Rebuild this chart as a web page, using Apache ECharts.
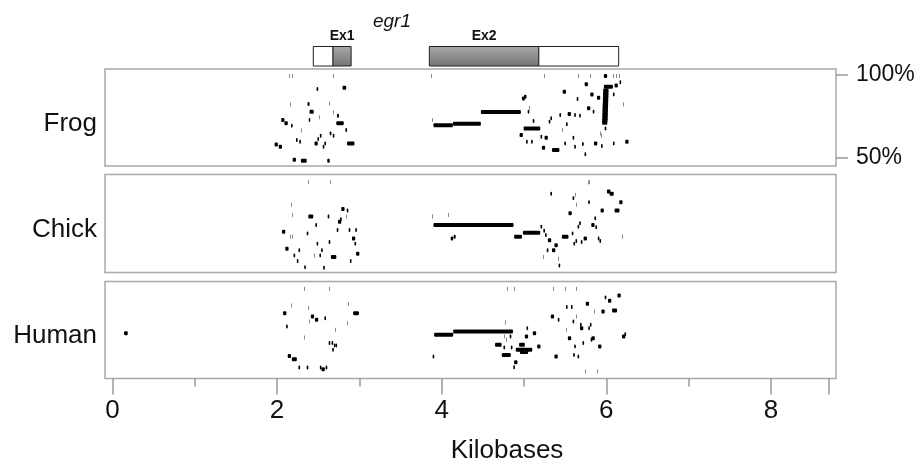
<!DOCTYPE html>
<html>
<head>
<meta charset="utf-8">
<script src="https://cdn.jsdelivr.net/npm/echarts@6/dist/echarts.min.js"></script>
<style>html,body{margin:0;padding:0;background:#fff;}#c{width:918px;height:467px;}</style>
</head>
<body>
<div id="c"></div>
<script>
// ---- data ----
const species = ['Frog', 'Chick', 'Human'];
const geneName = 'egr1';
const xTitle = 'Kilobases';
const xTickLabels = [0, 2, 4, 6, 8];
const xMajorTicks = [0, 2, 4, 6, 8, 8.7];
const xMinorTicks = [1, 3, 5, 7];
const identityTicks = [50, 100];
// gene model parts: [start kb, end kb, coding(1)/UTR(0)]
const geneParts = [[2.44, 2.68, 0], [2.68, 2.90, 1], [3.85, 5.18, 1], [5.18, 6.15, 0]];
// exon labels: [name, start kb, end kb]
const exonLabels = [['Ex1', 2.68, 2.90], ['Ex2', 3.85, 5.18]];
// conserved alignment hits: [start kb, end kb, % identity]
const frogHits = [
  [2.147,2.155,99.2],[2.176,2.184,99.2],[2.674,2.682,99.2],
  [2.48,2.50,91.3],[2.795,2.84,92.1],
  [2.156,2.164,82.1],[2.37,2.395,82.3],[2.633,2.641,82.7],
  [2.395,2.445,77.7],[2.674,2.682,77.3],[2.728,2.752,75.3],[2.508,2.516,74.3],
  [2.05,2.09,72.7],[2.09,2.13,70.7],[2.17,2.19,69.3],[2.72,2.81,70.7],[2.385,2.403,72.7],
  [2.83,2.85,66.6],[2.286,2.294,66.4],[2.64,2.66,64.6],[2.676,2.696,63.2],[2.52,2.54,63.2],
  [2.49,2.51,61.2],[2.23,2.25,60.6],[2.27,2.29,59.6],[2.455,2.495,58.6],[2.575,2.595,58.6],
  [2.555,2.575,56.6],[2.85,2.94,58.6],[1.97,2.01,58.0],[2.02,2.06,56.6],
  [2.19,2.23,48.8],[2.29,2.36,48.2],[2.61,2.64,48.2],
  [3.869,3.877,99.2],[3.886,3.894,72.7],
  [3.90,4.136,69.5],[4.136,4.476,70.5],[4.476,4.962,77.5],
  [4.975,5.01,85.7],[5.00,5.03,86.7],[5.066,5.074,80.1],[5.045,5.065,77.7],[5.106,5.126,72.1],
  [4.995,5.197,67.6],[4.946,4.986,63.6],[5.025,5.045,59.6],[5.086,5.106,59.6],
  [5.20,5.22,62.6],[5.25,5.29,62.0],[5.217,5.257,56.0],[5.34,5.43,54.6],
  [5.32,5.34,73.7],[5.30,5.32,71.7],[5.43,5.45,75.7],[5.47,5.51,89.7],
  [5.64,5.66,85.3],[5.737,5.777,94.2],[5.805,5.845,88.1],[5.886,5.926,86.1],
  [5.765,5.805,79.7],[5.835,5.855,77.7],[5.53,5.57,76.3],[5.61,5.63,75.7],[5.67,5.69,75.3],
  [5.51,5.53,70.1],[5.456,5.464,66.6],[5.59,5.61,62.0],[5.61,5.63,56.6],[5.49,5.51,58.6],
  [5.705,5.725,58.2],[5.735,5.755,52.0],[5.85,5.89,58.6],[5.936,5.956,57.0],[6.08,6.10,58.6],
  [6.23,6.27,59.6],[6.206,6.214,82.1],[6.08,6.10,88.1],[6.10,6.14,93.4],[6.16,6.18,95.4],
  [5.97,6.01,99.2],
  [5.246,5.254,99.2],[5.659,5.667,99.2],[5.801,5.809,99.2],[6.08,6.088,99.2],[6.12,6.128,99.2],[6.16,6.168,99.2],
  [5.97,6.08,92.7],
  [5.962,6.027,90.5],[5.961,6.026,89],[5.96,6.025,87.5],[5.959,6.024,86],[5.958,6.023,84.5],
  [5.957,6.022,83],[5.956,6.021,81.5],[5.955,6.02,80],[5.954,6.019,78.5],[5.953,6.018,77],
  [5.952,6.017,75.5],[5.951,6.016,74],[5.95,6.015,72.5],[5.949,6.012,71],
  [5.922,5.93,64.6],[5.931,5.939,63.2],[5.98,6.0,67.6]
];
const chickHits = [
  [2.378,2.386,98.8],[2.641,2.649,98.8],
  [2.164,2.172,85.3],[2.184,2.192,79.3],[2.38,2.44,78.3],[2.78,2.82,82.9],[2.846,2.866,81.9],
  [2.615,2.635,78.3],[2.74,2.78,75.3],[2.765,2.785,76.7],[2.836,2.844,78.3],[2.465,2.485,73.3],
  [2.06,2.10,69.3],[2.156,2.164,66.3],[2.176,2.184,66.3],[2.36,2.38,68.3],[2.725,2.745,70.3],
  [2.87,2.89,70.3],[2.95,2.97,70.3],[2.91,2.95,65.2],[2.94,2.96,62.2],[2.627,2.647,63.2],
  [2.48,2.50,62.2],[2.10,2.14,59.2],[2.26,2.28,58.2],[2.535,2.555,58.2],[2.20,2.22,55.2],
  [2.446,2.454,55.2],[2.514,2.534,55.2],[2.654,2.72,54.2],[2.96,3.00,56.2],[2.24,2.26,51.8],
  [2.885,2.905,51.8],[2.33,2.35,48.2],[2.56,2.58,47.8],
  [3.886,3.894,78.3],[4.071,4.079,79.3],[3.90,4.873,73.3],[4.11,4.14,65.2],[4.145,4.17,66.3],
  [4.88,4.975,66.3],[4.987,5.197,68.7],[5.20,5.22,72.3],[5.235,5.255,69.9],[5.256,5.276,67.3],
  [5.29,5.33,64.2],[5.37,5.41,61.2],[5.34,5.38,58.2],[5.276,5.296,58.2],[5.234,5.242,54.2],
  [5.416,5.424,53.2],[5.42,5.44,49.2],[5.46,5.54,66.3],[5.32,5.34,91.9],[5.59,5.61,89.3],
  [5.616,5.624,91.3],[5.636,5.644,85.3],[5.78,5.80,86.9],[5.54,5.58,80.3],[5.67,5.69,74.3],
  [5.65,5.67,72.3],[5.817,5.857,73.3],[5.867,5.887,71.9],[5.855,5.875,77.3],[5.58,5.60,68.3],
  [5.724,5.764,65.2],[5.625,5.645,63.8],[5.60,5.62,62.2],[5.69,5.71,63.2],[5.896,5.916,65.2],
  [5.916,5.936,63.8],[5.93,5.97,81.9],[6.007,6.05,93.3],[6.04,6.09,92.0],[6.157,6.197,86.9],
  [6.10,6.16,81.9],[5.776,5.784,98.8],[5.79,5.798,98.8],[6.196,6.204,66.3]
];
const humanHits = [
  [0.142,0.186,72.3],
  [2.329,2.337,99.0],[2.633,2.641,99.0],[2.166,2.174,89.0],[2.382,2.39,87.4],[2.864,2.872,89.8],
  [2.073,2.113,84.3],[2.41,2.45,82.3],[2.46,2.50,80.3],[2.394,2.402,79.3],[2.575,2.595,81.3],
  [2.925,2.995,84.3],[2.851,2.859,78.3],[2.11,2.13,76.3],[2.706,2.714,74.3],[2.326,2.334,69.7],
  [2.627,2.647,66.3],[2.662,2.682,66.3],[2.69,2.71,64.9],[2.71,2.73,64.9],[2.67,2.69,62.3],
  [2.13,2.17,58.6],[2.18,2.24,56.6],[2.26,2.28,51.6],[2.36,2.38,51.6],[2.52,2.54,51.6],
  [2.54,2.58,50.6],[2.59,2.61,51.6],
  [3.89,3.91,58.2],[3.908,4.14,71.3],[4.14,4.866,73.3],[4.796,4.804,99.0],[4.876,4.884,99.0],
  [4.766,4.774,78.7],[4.756,4.764,70.3],[4.776,4.784,68.3],[4.826,4.846,70.3],
  [5.03,5.05,75.3],[5.01,5.05,70.3],[5.107,5.147,72.3],[4.648,4.728,65.3],[4.75,4.77,63.7],
  [4.84,4.86,63.7],[4.94,5.01,65.3],[4.90,5.10,62.3],[4.95,5.05,61.0],[4.73,4.84,59.2],[5.16,5.20,64.3],
  [4.88,4.92,54.8],[4.87,4.89,51.8],
  [5.356,5.364,99.0],[5.496,5.504,99.0],[5.626,5.634,99.0],[5.51,5.53,88.0],[5.57,5.59,88.0],
  [5.75,5.79,90.0],[5.325,5.365,82.3],[5.41,5.43,80.3],[5.636,5.644,82.3],[5.59,5.61,79.3],
  [5.516,5.524,74.3],[5.68,5.70,77.3],[5.68,5.72,75.3],[5.80,5.82,77.3],[5.78,5.80,75.3],
  [5.533,5.573,69.3],[5.82,5.86,69.3],[5.81,5.83,68.3],[5.71,5.73,66.3],[5.61,5.63,64.3],
  [5.37,5.41,58.2],[5.597,5.617,59.2],[5.65,5.67,58.2],[5.90,5.94,64.3],[5.736,5.744,49.2],
  [5.886,5.894,49.2],[5.856,5.864,85.3],[5.94,5.98,85.3],[6.07,6.13,85.9],[5.98,6.00,93.8],
  [6.02,6.06,91.8],[6.135,6.175,95.0],[6.19,6.23,70.3],[6.22,6.24,71.7]
];

// ---- chart ----
const FONT = '"Liberation Sans", Arial, Helvetica, sans-serif';
const X_MIN = -0.09, X_MAX = 8.79;
const Y_MIN = 45, Y_MAX = 103.4;
const LEFT = 105, WIDTH = 731;
const panels = [{top: 69, height: 97}, {top: 174.5, height: 98}, {top: 281.5, height: 97}];

const chart = echarts.init(document.getElementById('c'), null, {renderer: 'canvas'});

function hitItem(params, api) {
  const a = api.coord([api.value(0), api.value(2)]);
  const b = api.coord([api.value(1), api.value(2)]);
  const w = b[0] - a[0];
  const thin = w < 1.2;
  return {
    type: 'rect',
    shape: {x: thin ? Math.round(a[0]) : a[0], y: a[1] - 2, width: thin ? 1 : w, height: 4, r: thin ? 0 : 1},
    style: {fill: thin ? '#8a8a8a' : '#000'}
  };
}
function geneItem(params, api) {
  const a = api.coord([api.value(0), 1]);
  const b = api.coord([api.value(1), 0]);
  return {
    type: 'rect',
    shape: {x: a[0], y: a[1], width: b[0] - a[0], height: b[1] - a[1]},
    style: {
      fill: api.value(2) ? new echarts.graphic.LinearGradient(0, 0, 0, 1, [{offset: 0, color: '#a8a8a8'}, {offset: 1, color: '#747474'}]) : '#fff',
      stroke: '#222', lineWidth: 1
    }
  };
}
function exonLabelItem(params, api) {
  const a = api.coord([api.value(1), 1]);
  const b = api.coord([api.value(2), 1]);
  return {
    type: 'text',
    style: {x: (a[0] + b[0]) / 2, y: a[1] - 3, text: exonLabels[params.dataIndex][0], fill: '#111',
      font: 'bold 14px ' + FONT, align: 'center', verticalAlign: 'bottom'}
  };
}

const grids = [{left: LEFT, width: WIDTH, top: 46.5, height: 19.5, show: false}].concat(
  panels.map(p => ({left: LEFT, width: WIDTH, top: p.top, height: p.height, show: true,
    borderColor: '#a9a9a9', borderWidth: 1.5, backgroundColor: '#fff'})));

const hidden = {axisLine: {show: false, onZero: false}, axisTick: {show: false}, axisLabel: {show: false}, splitLine: {show: false}};
const xAxes = [0, 1, 2].map(i => Object.assign({type: 'value', gridIndex: i, min: X_MIN, max: X_MAX}, hidden));
xAxes.push({
  type: 'value', gridIndex: 3, min: X_MIN, max: X_MAX, position: 'bottom',
  axisLine: {show: false, onZero: false}, splitLine: {show: false},
  axisTick: {show: true, length: 16, customValues: xMajorTicks, lineStyle: {color: '#999', width: 1.5}},
  axisLabel: {show: true, customValues: xTickLabels, margin: 19, fontSize: 26, color: '#111', fontFamily: FONT}
});
xAxes.push({
  type: 'value', gridIndex: 3, min: X_MIN, max: X_MAX, position: 'bottom',
  axisLine: {show: false, onZero: false}, splitLine: {show: false},
  axisTick: {show: true, length: 8, customValues: xMinorTicks, lineStyle: {color: '#999', width: 1.5}},
  axisLabel: {show: false}
});

const yAxes = [Object.assign({type: 'value', gridIndex: 0, min: 0, max: 1}, hidden)];
yAxes.push({
  type: 'value', gridIndex: 1, min: Y_MIN, max: Y_MAX, position: 'right',
  axisLine: {show: false, onZero: false}, splitLine: {show: false},
  axisTick: {show: true, length: 12, customValues: identityTicks, lineStyle: {color: '#999', width: 1.5}},
  axisLabel: {show: true, customValues: identityTicks, formatter: '{value}%', margin: 20, fontSize: 23, color: '#111', fontFamily: FONT}
});
yAxes.push(Object.assign({type: 'value', gridIndex: 2, min: Y_MIN, max: Y_MAX}, hidden));
yAxes.push(Object.assign({type: 'value', gridIndex: 3, min: Y_MIN, max: Y_MAX}, hidden));

const hitSets = [frogHits, chickHits, humanHits];
const series = [
  {type: 'custom', xAxisIndex: 0, yAxisIndex: 0, data: geneParts, renderItem: geneItem, encode: {x: [0, 1]}, silent: true},
  {type: 'custom', xAxisIndex: 0, yAxisIndex: 0, data: exonLabels.map(e => [e[0], e[1], e[2]]), renderItem: exonLabelItem, encode: {x: [1, 2]}, silent: true}
].concat(hitSets.map((d, i) => ({
  type: 'custom', xAxisIndex: i + 1, yAxisIndex: i + 1, data: d, renderItem: hitItem,
  encode: {x: [0, 1], y: 2}, clip: true, silent: true
})));

const labelYs = panels.map(p => p.top + p.height / 2 + 6);
const graphic = species.map((s, i) => ({
  type: 'text', x: 97, y: labelYs[i],
  style: {text: s, font: '26px ' + FONT, fill: '#111', align: 'right', verticalAlign: 'middle'}
})).concat([
  {type: 'text', x: 392, y: 22, style: {text: geneName, font: 'italic 19px ' + FONT, fill: '#111', align: 'center', verticalAlign: 'middle'}},
  {type: 'text', x: 507, y: 451, style: {text: xTitle, font: '26px ' + FONT, fill: '#111', align: 'center', verticalAlign: 'middle'}}
]);

chart.setOption({
  animation: false,
  backgroundColor: '#fff',
  grid: grids,
  xAxis: xAxes,
  yAxis: yAxes,
  series: series,
  graphic: graphic
});
</script>
</body>
</html>
